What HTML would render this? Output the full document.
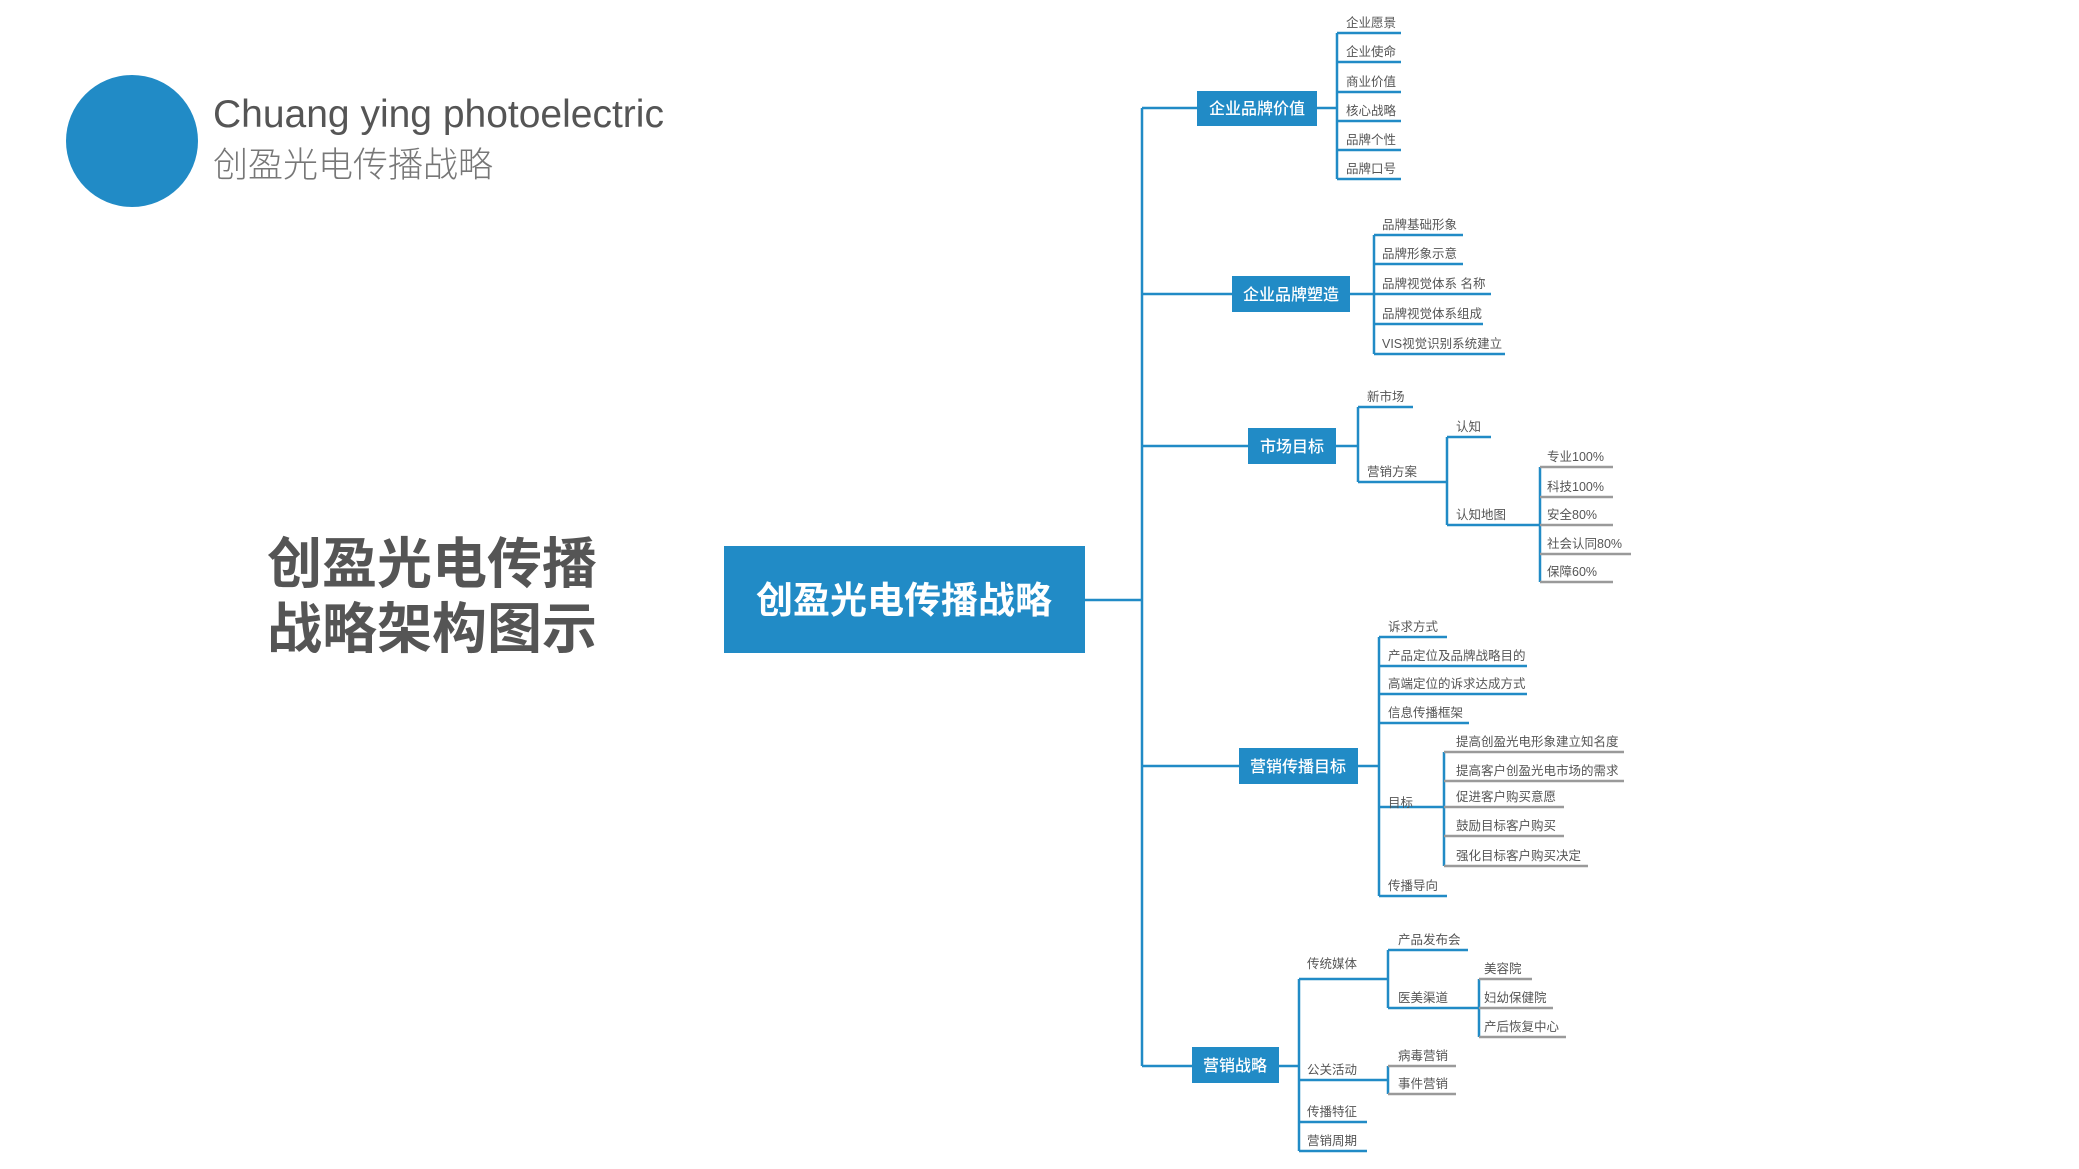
<!DOCTYPE html>
<html><head><meta charset="utf-8"><style>
html,body{margin:0;padding:0;background:#fff;}
body{width:2079px;height:1169px;overflow:hidden;position:relative;}
svg{position:absolute;left:0;top:0;}
.l{font-family:"Liberation Sans","Noto Sans CJK SC",sans-serif;font-size:12.5px;fill:#555;}
.n{font-family:"Liberation Sans","Noto Sans CJK SC",sans-serif;font-size:16px;fill:#fff;font-weight:500;}
</style></head><body>
<svg width="2079" height="1169" viewBox="0 0 2079 1169">
<circle cx="132" cy="141" r="66" fill="#218bc6"/>
<text x="213" y="127" font-family="Liberation Sans,sans-serif" font-size="39" fill="#555">Chuang ying photoelectric</text>
<text x="213" y="177" font-family="Liberation Sans,Noto Sans CJK SC,sans-serif" font-size="35" font-weight="300" fill="#777">创盈光电传播战略</text>
<text x="267" y="583" font-family="Liberation Sans,Noto Sans CJK SC,sans-serif" font-size="55" font-weight="bold" fill="#555">创盈光电传播</text>
<text x="267" y="648" font-family="Liberation Sans,Noto Sans CJK SC,sans-serif" font-size="55" font-weight="bold" fill="#555">战略架构图示</text>
<rect x="724" y="546" width="361" height="107" fill="#218bc6"/>
<text x="904" y="613" text-anchor="middle" font-family="Liberation Sans,Noto Sans CJK SC,sans-serif" font-size="37" font-weight="bold" fill="#fff">创盈光电传播战略</text>

<g stroke="#218bc6" stroke-width="2.5" fill="none">
<path d="M1085 600H1142M1142 108V1066"/>
<path d="M1142 108H1197M1142 294H1232M1142 446H1248M1142 766H1239M1142 1066H1192"/>
<path d="M1317 108H1337M1337 33V179M1337 33H1401M1337 62H1401M1337 92H1401M1337 121H1401M1337 150H1401M1337 179H1401"/>
<path d="M1350 294H1374M1374 235V354M1374 235H1463M1374 264H1463M1374 294H1491M1374 324H1483M1374 354H1505"/>
<path d="M1336 446H1358M1358 407V482M1358 407H1413M1358 482H1447M1447 437V525M1447 437H1491M1447 525H1540M1540 467V582"/>
<path d="M1358 766H1379M1379 637V896M1379 637H1447M1379 666H1527M1379 694H1527M1379 723H1469M1379 807H1444M1379 896H1447M1444 752V866"/>
<path d="M1279 1066H1299M1299 979V1151M1299 979H1388M1299 1080H1388M1299 1122H1367M1299 1151H1367M1388 950V1008M1388 950H1468M1388 1008H1479M1479 979V1037M1388 1066V1094"/>
</g>
<g stroke="#9a9a9a" stroke-width="2.5" fill="none">
<path d="M1540 467H1613M1540 497H1613M1540 525H1613M1540 554H1631M1540 582H1613"/>
<path d="M1444 752H1624M1444 781H1624M1444 807H1564M1444 836H1564M1444 866H1588"/>
<path d="M1479 979H1532M1479 1008H1553M1479 1037H1566M1388 1066H1456M1388 1094H1456"/>
</g>

<rect x="1197" y="91" width="120" height="35" fill="#218bc6"/>
<text class="n" x="1257" y="114" text-anchor="middle">企业品牌价值</text>
<rect x="1232" y="276" width="118" height="36" fill="#218bc6"/>
<text class="n" x="1291" y="300" text-anchor="middle">企业品牌塑造</text>
<rect x="1248" y="428" width="88" height="36" fill="#218bc6"/>
<text class="n" x="1292" y="452" text-anchor="middle">市场目标</text>
<rect x="1239" y="748" width="119" height="36" fill="#218bc6"/>
<text class="n" x="1298" y="772" text-anchor="middle">营销传播目标</text>
<rect x="1192" y="1047" width="87" height="36" fill="#218bc6"/>
<text class="n" x="1235" y="1071" text-anchor="middle">营销战略</text>

<g class="l">
<text x="1346" y="27">企业愿景</text>
<text x="1346" y="56">企业使命</text>
<text x="1346" y="86">商业价值</text>
<text x="1346" y="115">核心战略</text>
<text x="1346" y="144">品牌个性</text>
<text x="1346" y="173">品牌口号</text>

<text x="1382" y="229">品牌基础形象</text>
<text x="1382" y="258">品牌形象示意</text>
<text x="1382" y="288">品牌视觉体系  名称</text>
<text x="1382" y="318">品牌视觉体系组成</text>
<text x="1382" y="348">VIS视觉识别系统建立</text>

<text x="1367" y="401">新市场</text>
<text x="1367" y="476">营销方案</text>
<text x="1456" y="431">认知</text>
<text x="1456" y="519">认知地图</text>
<text x="1547" y="461">专业100%</text>
<text x="1547" y="491">科技100%</text>
<text x="1547" y="519">安全80%</text>
<text x="1547" y="548">社会认同80%</text>
<text x="1547" y="576">保障60%</text>

<text x="1388" y="631">诉求方式</text>
<text x="1388" y="660">产品定位及品牌战略目的</text>
<text x="1388" y="688">高端定位的诉求达成方式</text>
<text x="1388" y="717">信息传播框架</text>
<text x="1388" y="807">目标</text>
<text x="1388" y="890">传播导向</text>
<text x="1456" y="746">提高创盈光电形象建立知名度</text>
<text x="1456" y="775">提高客户创盈光电市场的需求</text>
<text x="1456" y="801">促进客户购买意愿</text>
<text x="1456" y="830">鼓励目标客户购买</text>
<text x="1456" y="860">强化目标客户购买决定</text>

<text x="1307" y="968">传统媒体</text>
<text x="1307" y="1074">公关活动</text>
<text x="1307" y="1116">传播特征</text>
<text x="1307" y="1145">营销周期</text>
<text x="1398" y="944">产品发布会</text>
<text x="1398" y="1002">医美渠道</text>
<text x="1484" y="973">美容院</text>
<text x="1484" y="1002">妇幼保健院</text>
<text x="1484" y="1031">产后恢复中心</text>
<text x="1398" y="1060">病毒营销</text>
<text x="1398" y="1088">事件营销</text>
</g>
</svg>
</body></html>
